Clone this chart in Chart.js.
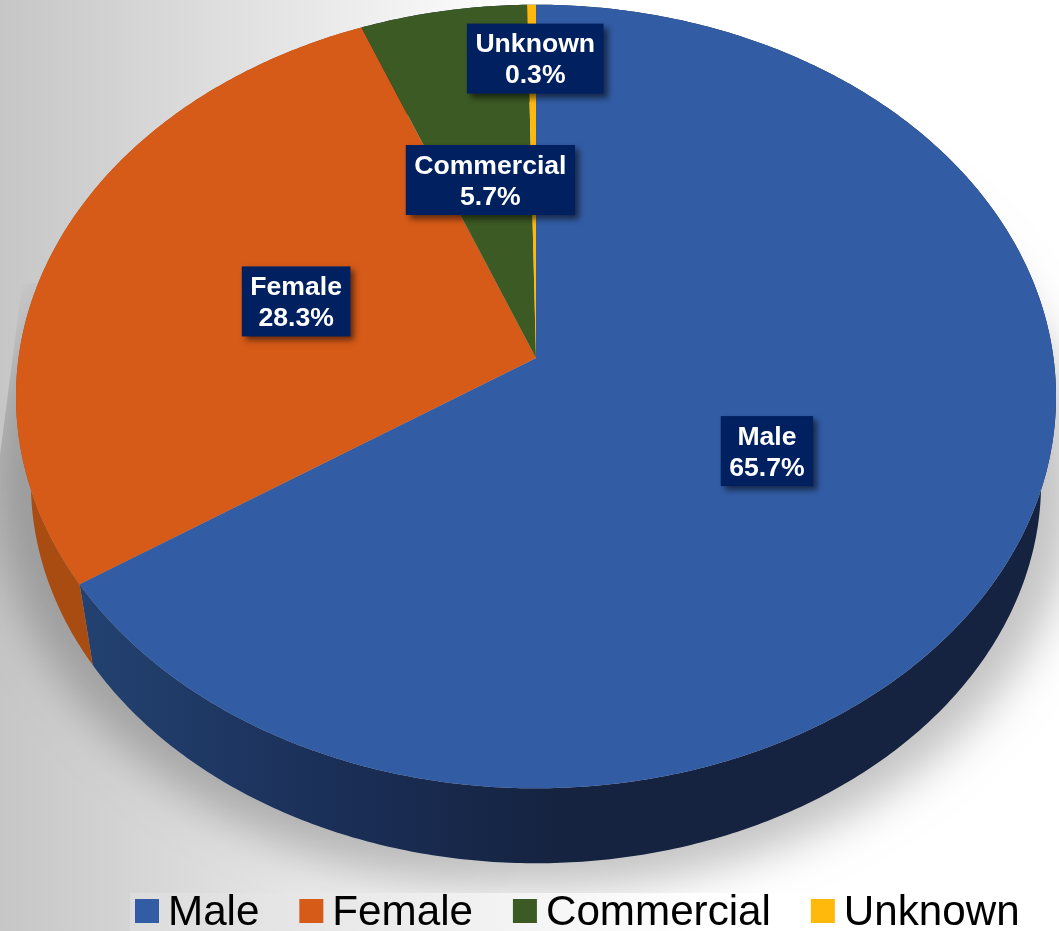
<!DOCTYPE html>
<html>
<head>
<meta charset="utf-8">
<style>
    html, body { margin: 0; padding: 0; background: #fff; overflow: hidden; }
    canvas { display: block; }
</style>
<script src="https://cdn.jsdelivr.net/npm/chart.js@4/dist/chart.umd.min.js"></script>
</head>
<body>
<canvas id="pie" width="1059" height="931"></canvas>
<script>
const categories = ['Male', 'Female', 'Commercial', 'Unknown'];
const shareValues = [65.7, 28.3, 5.7, 0.3];
const sliceColors = ['#325ca4', '#d65a18', '#3c5a24', '#ffb80c'];
const labelRadius = [0.495, 0.493, 0.49, 0.835];
const labelShiftX = [0, 0, 2, 3];

const FONT = '"Liberation Sans", Arial, sans-serif';

// the tilted disc: a circle seen through a perspective, apex is not the ellipse centre
const disc = { cx: 536, cy: 358, a: 517.5, b: 388, p: 0.0983 };
// rim points run towards this vanishing point
const rim = { vx: 536, vy: 3400, t: 0.0287 };

function project(u, v, lower) {
    const w = 1 - disc.p * v;
    let x = disc.cx + disc.a * u / w;
    let y = disc.cy + disc.b * v / w;
    if (lower) {
        x += (rim.vx - x) * rim.t;
        y += (rim.vy - y) * rim.t;
    }
    return { x, y };
}

function edgePoints(start, end, lower) {
    const steps = Math.max(2, Math.ceil((end - start) / 0.01));
    const pts = [];
    for (let i = 0; i <= steps; i++) {
        const a = start + (end - start) * i / steps;
        pts.push(project(Math.cos(a), Math.sin(a), lower));
    }
    return pts;
}

function tracePoints(ctx, pts) {
    pts.forEach((p, i) => (i === 0 ? ctx.moveTo(p.x, p.y) : ctx.lineTo(p.x, p.y)));
}

function wallFill(ctx, index) {
    const g = ctx.createLinearGradient(80, 0, 560, 0);
    if (index === 1) {
        g.addColorStop(0, '#a84c12');
        g.addColorStop(1, '#8a3d0e');
    } else {
        g.addColorStop(0, '#234271');
        g.addColorStop(0.55, '#1a2e56');
        g.addColorStop(1, '#152340');
    }
    return g;
}

// soft shadow of a slightly enlarged lower rim, cut off along the diagonal at the far left.
// The shape itself sits off canvas so only its blurred shadow lands on the page.
function drawShadow(ctx) {
    const offCanvas = 3000;
    const grown = edgePoints(0, Math.PI * 2, true).map(p => ({
        x: 536 + (p.x - 536) * 1.07 - offCanvas,
        y: 480 + (p.y - 480) * 1.07
    }));
    ctx.save();
    ctx.beginPath();
    ctx.moveTo(22, 285);
    ctx.lineTo(1059, 100);
    ctx.lineTo(1059, 931);
    ctx.lineTo(0, 931);
    ctx.lineTo(0, 455);
    ctx.closePath();
    ctx.clip();
    ctx.shadowColor = 'rgba(0, 0, 0, 0.23)';
    ctx.shadowBlur = 44;
    ctx.shadowOffsetX = offCanvas;
    ctx.fillStyle = '#000';
    ctx.beginPath();
    tracePoints(ctx, grown);
    ctx.closePath();
    ctx.fill();
    ctx.restore();
}

function drawWalls(ctx, arcs) {
    arcs.forEach((arc, i) => {
        const top = edgePoints(arc.startAngle, arc.endAngle, false);
        const bottom = edgePoints(arc.startAngle, arc.endAngle, true).reverse();
        ctx.beginPath();
        tracePoints(ctx, top.concat(bottom));
        ctx.closePath();
        ctx.fillStyle = wallFill(ctx, i);
        ctx.fill();
    });
}

function drawTops(ctx, arcs) {
    arcs.forEach(arc => {
        ctx.beginPath();
        ctx.moveTo(disc.cx, disc.cy);
        edgePoints(arc.startAngle, arc.endAngle, false).forEach(p => ctx.lineTo(p.x, p.y));
        ctx.closePath();
        ctx.fillStyle = arc.options.backgroundColor;
        ctx.fill();
    });
}

function drawLabels(ctx, arcs) {
    ctx.font = 'bold 26.6px ' + FONT;
    ctx.textAlign = 'center';
    ctx.textBaseline = 'middle';
    arcs.forEach((arc, i) => {
        const mid = (arc.startAngle + arc.endAngle) / 2;
        const r = labelRadius[i];
        const c = project(r * Math.cos(mid), r * Math.sin(mid), false);
        c.x += labelShiftX[i];
        const lines = [categories[i], shareValues[i].toFixed(1) + '%'];
        const w = Math.max(...lines.map(t => ctx.measureText(t).width)) + 17;
        const h = 70;
        ctx.save();
        ctx.shadowColor = 'rgba(0, 0, 0, 0.55)';
        ctx.shadowBlur = 6;
        ctx.shadowOffsetX = 4;
        ctx.shadowOffsetY = 4;
        ctx.fillStyle = '#002060';
        ctx.fillRect(c.x - w / 2, c.y - h / 2, w, h);
        ctx.restore();
        ctx.fillStyle = '#fff';
        ctx.fillText(lines[0], c.x, c.y - 13.5);
        ctx.fillText(lines[1], c.x, c.y + 17.5);
    });
}

function drawLegend(chart) {
    const ctx = chart.ctx;
    const band = ctx.createLinearGradient(130, 0, 700, 0);
    band.addColorStop(0, '#dcdcdc');
    band.addColorStop(1, '#ffffff');
    ctx.fillStyle = band;
    ctx.fillRect(130, 893, 929, 38);

    ctx.font = '42.2px ' + FONT;
    ctx.textAlign = 'left';
    ctx.textBaseline = 'alphabetic';
    let x = 135;
    chart.data.labels.forEach((label, i) => {
        ctx.fillStyle = sliceColors[i];
        ctx.fillRect(x, 899, 24, 24);
        ctx.fillStyle = '#000';
        ctx.fillText(label, x + 33, 925);
        x += 33 + ctx.measureText(label).width + 39.9;
    });
}

const tiltedPie = {
    id: 'tiltedPie',
    beforeDraw(chart) {
        const ctx = chart.ctx;
        const bg = ctx.createLinearGradient(0, 0, 520, 0);
        bg.addColorStop(0, '#c6c6c6');
        bg.addColorStop(1, '#ffffff');
        ctx.fillStyle = bg;
        ctx.fillRect(0, 0, chart.width, chart.height);
    },
    beforeDatasetsDraw(chart) {
        const ctx = chart.ctx;
        const arcs = chart.getDatasetMeta(0).data;
        drawShadow(ctx);
        drawLegend(chart);
        drawWalls(ctx, arcs);
        drawTops(ctx, arcs);
        drawLabels(ctx, arcs);
        return false;
    }
};

new Chart(document.getElementById('pie'), {
    type: 'pie',
    data: {
        labels: categories,
        datasets: [{
            data: shareValues,
            backgroundColor: sliceColors,
            borderWidth: 0
        }]
    },
    options: {
        responsive: false,
        animation: false,
        plugins: {
            legend: { display: false },
            tooltip: { enabled: false }
        }
    },
    plugins: [tiltedPie]
});
</script>
</body>
</html>
